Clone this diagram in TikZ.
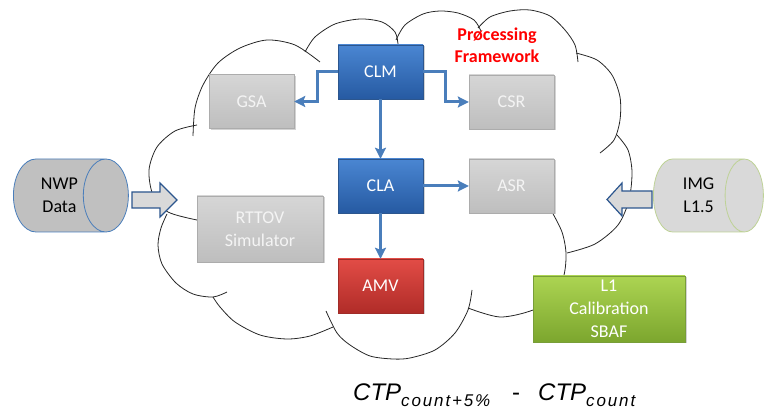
\documentclass[tikz,border=0pt]{standalone}
\usepackage{fontspec}
\setmainfont{Carlito}
\newfontfamily\formula{Liberation Sans}
\newfontfamily\subformula[LetterSpace=11]{Liberation Sans}
\usetikzlibrary{shapes.geometric,shadows,arrows.meta}

\definecolor{azulA}{RGB}{74,134,210}
\definecolor{azulB}{RGB}{38,90,162}
\definecolor{azulBorde}{RGB}{44,86,142}
\definecolor{azulLinea}{RGB}{74,126,187}
\definecolor{grisA}{RGB}{214,214,214}
\definecolor{grisB}{RGB}{190,190,190}
\definecolor{grisBorde}{RGB}{172,172,172}
\definecolor{grisTexto}{RGB}{244,244,244}
\definecolor{rojoA}{RGB}{226,76,70}
\definecolor{rojoB}{RGB}{176,44,40}
\definecolor{rojoBorde}{RGB}{160,44,40}
\definecolor{verdeA}{RGB}{172,212,82}
\definecolor{verdeB}{RGB}{124,166,46}
\definecolor{verdeBorde}{RGB}{120,158,56}
\definecolor{grisCil}{RGB}{192,192,192}
\definecolor{grisClaro}{RGB}{217,217,217}
\definecolor{verdeCil}{RGB}{190,210,150}

\begin{document}
\begin{tikzpicture}[x=1pt,y=-1pt]
        % Estilos
        \tikzset{
            caja/.style={draw, minimum width=85pt, minimum height=54pt, inner sep=0pt,
                align=center, font=\fontsize{18}{23}\selectfont,
                drop shadow={shadow xshift=1.5pt, shadow yshift=-1.5pt, opacity=0.35}},
            gris/.style={caja, top color=grisA, bottom color=grisB, draw=grisBorde, text=grisTexto},
            azul/.style={caja, top color=azulA, bottom color=azulB, draw=azulBorde, text=white},
            rojo/.style={caja, top color=rojoA, bottom color=rojoB, draw=rojoBorde, text=white},
            verde/.style={caja, top color=verdeA, bottom color=verdeB, draw=verdeBorde, text=white},
            cilindro/.style={cylinder, draw, line width=0.8pt, minimum width=73pt, inner sep=0pt,
                align=center, font=\fontsize{18}{23}\selectfont},
            flechagruesa/.style={draw=azulBorde, fill=grisClaro, line width=1.2pt, line join=miter},
            conector/.style={-{Stealth[length=11pt, width=11pt, inset=2pt]}, line width=3pt, azulLinea},
            nube/.style={line width=0.8pt, black!85}
        }
        \useasboundingbox (0,0) rectangle (764,411);

        % --- NUBE ---
        \draw[nube] plot[smooth] coordinates {(193,136) (195,108) (203,85) (218,63) (240,48) (267,40) (295,45) (320,62)};
        \draw[nube] plot[smooth] coordinates {(305,52) (315,37) (335,24) (360,19) (382,22) (395,32) (398,44)};
        \draw[nube] plot[smooth] coordinates {(396,40) (405,25) (423,14) (440,11) (458,13) (474,20) (481,31)};
        \draw[nube] plot[smooth] coordinates {(478,28) (490,17) (510,11) (530,10) (550,16) (565,30) (575,45) (578,62)};
        \draw[nube] plot[smooth] coordinates {(576,53) (597,60) (612,75) (620,97) (620,120) (614,140) (600,153)};
        \draw[nube] plot[smooth] coordinates {(617,135) (628,150) (632,172) (629,200) (618,225) (595,244) (567,253)};
        \draw[nube] plot[smooth] coordinates {(552,212) (562,232) (566,253) (564,275) (555,295) (533,310) (500,317) (468,308)};
        \draw[nube] plot[smooth] coordinates {(472,290) (468,310) (455,333) (435,350) (410,358) (393,359) (370,356) (350,345) (337,333) (326,311)};
        \draw[nube] plot[smooth] coordinates {(333,327) (310,336) (287,339) (260,335) (235,322) (220,307) (213,297)};
        \draw[nube] plot[smooth] coordinates {(227,292) (213,297) (193,294) (176,283) (162,264) (158,245) (161,228) (167,214)};
        \draw[nube] plot[smooth] coordinates {(197,125) (175,131) (157,147) (149,170) (153,195) (168,212) (197,220)};

        % --- MODULOS ---
        \node[azul] (clm) at (380.5,72) {CLM};
        \node[gris] (gsa) at (251.5,101.5) {GSA};
        \node[gris] (csr) at (511.5,102) {CSR};
        \node[azul] (cla) at (380.5,186) {CLA};
        \node[gris] (asr) at (511.5,186) {ASR};
        \node[gris, minimum width=126pt, minimum height=66pt] (rttov) at (260,229) {RTTOV\\Simulator};
        \node[rojo] (amv) at (380.5,286) {AMV};
        \node[verde, minimum width=152pt, minimum height=66pt] (l1) at (609,309) {L1\\Calibration\\SBAF};
        \node[text=red, font=\bfseries\fontsize{18}{22}\selectfont, align=center] (titulo) at (497,45) {Prøcessing\\Framework};

        % --- CONEXIONES ---
        \draw[conector] (clm.west) -- ++(-20,0) |- (gsa.east);
        \draw[conector] (clm.east) -- ++(22,0) |- (csr.west);
        \draw[conector] (clm.south) -- (cla.north);
        \draw[conector] (cla.east) -- (asr.west);
        \draw[conector] (cla.south) -- (amv.north);

        % --- ENTRADAS ---
        \node[cilindro, fill=grisCil, draw=azulLinea, minimum height=115pt, aspect=1.3, anchor=west] (nwp) at (13,195.5) {NWP\\Data};
        \node[cilindro, fill=grisClaro, draw=verdeCil, minimum height=110pt, aspect=1.1, anchor=west] (img) at (653,195.5) {IMG\\L1.5};
        \draw[flechagruesa] (132,192) -- (160,192) -- (160,183) -- (177,200) -- (160,217) -- (160,208) -- (132,208) -- cycle;
        \draw[flechagruesa] (652,191) -- (622,191) -- (622,183) -- (607,199.5) -- (622,216) -- (622,208) -- (652,208) -- cycle;

        % --- FORMULA ---
        \node[anchor=base west, inner sep=0pt, font=\formula\itshape\fontsize{24}{24}\selectfont] (ctpa) at (353,401)
            {CTP\lower6pt\hbox{\subformula\itshape\fontsize{17}{17}\selectfont count+5\%}};
        \node[anchor=base, inner sep=0pt, font=\formula\fontsize{24}{24}\selectfont] (menos) at (516,401) {-};
        \node[anchor=base west, inner sep=0pt, font=\formula\itshape\fontsize{24}{24}\selectfont] (ctpb) at (538,401)
            {CTP\lower6pt\hbox{\subformula\itshape\fontsize{17}{17}\selectfont count}};
\end{tikzpicture}
\end{document}
